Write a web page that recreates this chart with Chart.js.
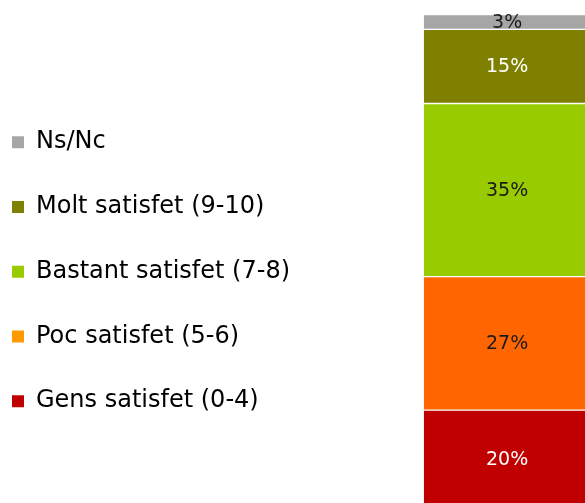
<!DOCTYPE html>
<html>
<head>
<meta charset="utf-8">
<script src="https://cdn.jsdelivr.net/npm/chart.js@4/dist/chart.umd.min.js"></script>
<style>
  html, body { margin: 0; padding: 0; overflow: hidden; background: #fff; }
  #wrap { width: 591px; height: 509px; }
</style>
</head>
<body>
<div id="wrap"><canvas id="satisfaction" width="591" height="509"></canvas></div>
<script>
// bottom segment first, legend is shown reversed
const categories = [''];
const seriesNames = ['Gens satisfet (0-4)', 'Poc satisfet (5-6)', 'Bastant satisfet (7-8)', 'Molt satisfet (9-10)', 'Ns/Nc'];
const seriesValues = [20, 27, 35, 15, 3];
const barColors = ['#C00000', '#FF6600', '#99CC00', '#808000', '#A6A6A6'];
const legendColors = ['#C00000', '#FF9900', '#99CC00', '#808000', '#A6A6A6'];
const labelColors = ['#ffffff', '#1a1a1a', '#1a1a1a', '#ffffff', '#1a1a1a'];

const LEGEND_WIDTH = 452;

// stretch the legend box so the bar starts where it does in the original
const legendWidth = {
    id: 'legendWidth',
    beforeInit(chart) {
        if (!chart.legend || chart.legend._widthPatched) return;
        const fit = chart.legend.fit;
        chart.legend.fit = function () {
            fit.call(this);
            this.width = LEGEND_WIDTH;
        };
        chart.legend._widthPatched = true;
    }
};

// percent labels in the middle of each segment
const segmentLabels = {
    id: 'segmentLabels',
    afterDatasetsDraw(chart) {
        const ctx = chart.ctx;
        ctx.save();
        ctx.font = '19px "DejaVu Sans"';
        ctx.textAlign = 'center';
        ctx.textBaseline = 'middle';
        chart.data.datasets.forEach((ds, i) => {
            const bar = chart.getDatasetMeta(i).data[0];
            if (!bar) return;
            const { x, y, base } = bar.getProps(['x', 'y', 'base'], true);
            ctx.fillStyle = labelColors[i];
            ctx.fillText(ds.data[0] + '%', x, (y + base) / 2 + 1);
        });
        ctx.restore();
    }
};

const datasets = seriesNames.map((name, i) => ({
    label: name,
    data: [seriesValues[i]],
    backgroundColor: barColors[i],
    borderColor: '#ffffff',
    borderWidth: 1,
    borderSkipped: false,
    categoryPercentage: 1,
    barPercentage: 1
}));

new Chart(document.getElementById('satisfaction'), {
    type: 'bar',
    data: { labels: categories, datasets: datasets },
    options: {
        responsive: false,
        animation: false,
        layout: { padding: { left: -28.75, top: 14.5, right: 0, bottom: 0 } },
        plugins: {
            tooltip: { enabled: false },
            legend: {
                position: 'left',
                align: 'center',
                reverse: true,
                title: { display: true, text: '', font: { size: 10 }, padding: { top: 8, bottom: 0 } },
                labels: {
                    boxWidth: 12,
                    boxHeight: 12,
                    padding: 40.75,
                    color: '#000000',
                    font: { family: '"DejaVu Sans"', size: 24 },
                    generateLabels(chart) {
                        const items = Chart.defaults.plugins.legend.labels.generateLabels(chart);
                        items.forEach(item => {
                            item.fillStyle = legendColors[item.datasetIndex];
                            item.lineWidth = 0;
                            item.strokeStyle = 'rgba(0,0,0,0)';
                        });
                        return items;
                    }
                }
            }
        },
        scales: {
            x: { stacked: true, display: false },
            y: { stacked: true, display: false, min: 0, max: 100 }
        }
    },
    plugins: [legendWidth, segmentLabels]
});
</script>
</body>
</html>
